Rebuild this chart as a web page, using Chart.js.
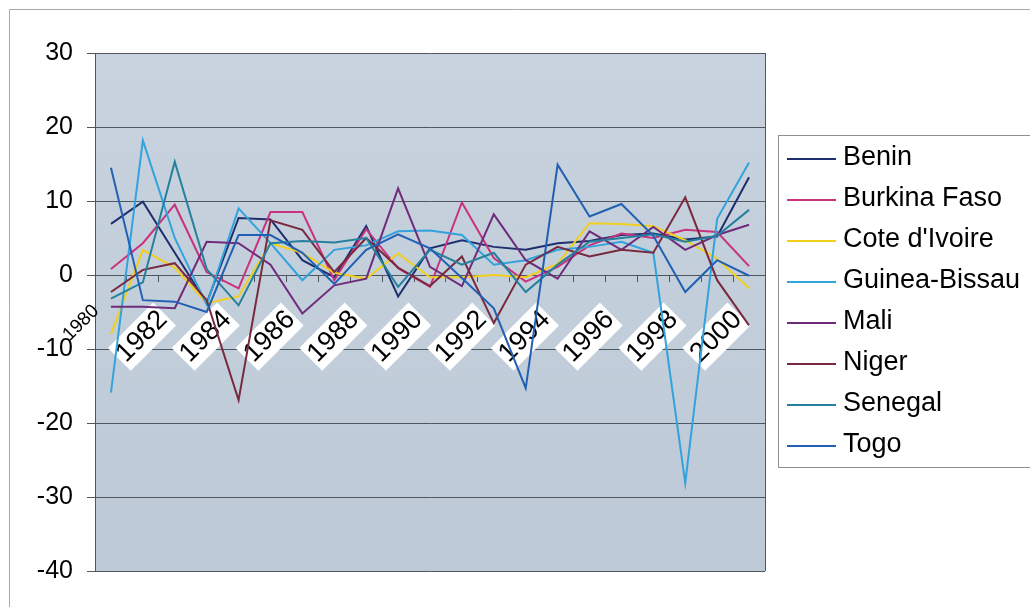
<!DOCTYPE html>
<html>
<head>
<meta charset="utf-8">
<script src="https://cdn.jsdelivr.net/npm/chart.js@4.4.1/dist/chart.umd.min.js"></script>
<style>
  html, body { margin: 0; padding: 0; background: #ffffff; }
  #wrap { width: 1030px; height: 607px; position: relative; }
</style>
</head>
<body>
<div id="wrap"><canvas id="c" width="1030" height="607"></canvas></div>
<script>
// Annual change (%) by country, 1980-2000
const years = ['1980','1981','1982','1983','1984','1985','1986','1987','1988','1989','1990',
               '1991','1992','1993','1994','1995','1996','1997','1998','1999','2000'];

const benin        = [6.9, 9.9, 3.0, -3.8, 7.7, 7.5, 2.0, -0.3, 6.6, -2.9, 3.6, 4.7, 3.8, 3.4, 4.3, 4.6, 5.4, 5.6, 4.8, 5.2, 13.2];
const burkinaFaso  = [0.8, 4.3, 9.5, 0.4, -1.8, 8.5, 8.5, -0.7, 6.2, 0.9, -1.6, 9.8, 2.3, -0.9, 1.1, 4.0, 5.6, 5.0, 6.1, 5.8, 1.2];
const coteDIvoire  = [-8.0, 3.4, 1.0, -3.8, -2.9, 4.3, 3.0, 0.3, -0.5, 2.9, -0.3, -0.3, 0.0, -0.3, 1.5, 7.0, 6.9, 6.6, 4.7, 2.2, -1.8];
const guineaBissau = [-15.9, 18.2, 5.0, -4.0, 9.0, 4.3, -0.7, 3.4, 4.0, 5.9, 6.0, 5.4, 1.4, 2.0, 3.4, 3.8, 4.5, 3.0, -28.1, 7.6, 15.2];
const mali         = [-4.3, -4.3, -4.5, 4.5, 4.3, 1.4, -5.2, -1.4, -0.5, 11.7, 1.1, -1.5, 8.2, 2.0, -0.5, 5.9, 3.4, 6.5, 3.4, 5.4, 6.8];
const niger        = [-2.3, 0.7, 1.6, -3.4, -16.9, 7.4, 6.1, 0.4, 5.0, 1.0, -1.5, 2.5, -6.5, 1.4, 3.8, 2.5, 3.4, 3.0, 10.5, -0.7, -6.8];
const senegal      = [-3.2, -1.0, 15.3, 0.8, -4.1, 4.3, 4.6, 4.4, 5.0, -1.6, 3.4, 1.4, 3.0, -2.3, 1.4, 4.5, 5.0, 5.5, 4.5, 5.3, 8.8];
const togo         = [14.5, -3.4, -3.6, -5.0, 5.4, 5.4, 3.0, -1.2, 3.4, 5.5, 3.6, -0.4, -4.5, -15.3, 14.9, 7.9, 9.6, 5.3, -2.3, 2.0, -0.1];

const seriesNames  = ['Benin', 'Burkina Faso', "Cote d'Ivoire", 'Guinea-Bissau', 'Mali', 'Niger', 'Senegal', 'Togo'];
const seriesValues = [benin, burkinaFaso, coteDIvoire, guineaBissau, mali, niger, senegal, togo];
const seriesColors = ['#1d2f6f', '#c8327e', '#f0cf1e', '#32a3dc', '#6f2c7c', '#7a2a3e', '#24809e', '#2160b2'];

const yTicks = { min: -40, max: 30, step: 10 };

const FONT = '"Liberation Sans", Arial, Helvetica, sans-serif';
const AXIS_GRAY = '#50565d';

// Plot background, outer frame and right-hand border of the plot
const plotFrame = {
  id: 'plotFrame',
  beforeDraw(chart) {
    const { ctx, chartArea: a } = chart;
    ctx.save();
    ctx.strokeStyle = '#a9a9a9';
    ctx.lineWidth = 1;
    ctx.beginPath();
    ctx.moveTo(9.5, 607);
    ctx.lineTo(9.5, 9.5);
    ctx.lineTo(1030, 9.5);
    ctx.stroke();
    const g = ctx.createLinearGradient(0, a.top, 0, a.bottom);
    g.addColorStop(0, '#c8d3df');
    g.addColorStop(1, '#bdc9d6');
    ctx.fillStyle = g;
    ctx.fillRect(a.left, a.top, a.right - a.left, a.bottom - a.top);
    ctx.restore();
  },
  beforeDatasetsDraw(chart) {
    const { ctx, chartArea: a } = chart;
    ctx.save();
    ctx.strokeStyle = AXIS_GRAY;
    ctx.lineWidth = 1;
    ctx.beginPath();
    ctx.moveTo(Math.round(a.right) + 0.5, a.top);
    ctx.lineTo(Math.round(a.right) + 0.5, a.bottom);
    ctx.stroke();
    ctx.restore();
  },
  // the first year label sits outside the plot, smaller and without a backdrop
  afterDraw(chart) {
    const { ctx } = chart;
    const x0 = chart.scales.x.getPixelForValue(0);
    const y0 = chart.scales.y.getPixelForValue(0);
    ctx.save();
    ctx.translate(x0 - 15, y0 + 33);
    ctx.rotate(-Math.PI / 4);
    ctx.font = '19px ' + FONT;
    ctx.fillStyle = '#000000';
    ctx.textAlign = 'right';
    ctx.textBaseline = 'middle';
    ctx.fillText(years[0], 0, 0);
    ctx.restore();
  }
};

// Boxed legend with line samples on the right
const boxedLegend = {
  id: 'boxedLegend',
  afterDraw(chart) {
    const ctx = chart.ctx;
    ctx.save();
    ctx.strokeStyle = '#8f8f8f';
    ctx.lineWidth = 1;
    ctx.strokeRect(778.5, 135.5, 300, 332);
    ctx.font = '27px ' + FONT;
    ctx.textBaseline = 'middle';
    ctx.textAlign = 'left';
    chart.data.datasets.forEach((ds, i) => {
      const y = 158 + i * 41;
      ctx.strokeStyle = ds.borderColor;
      ctx.lineWidth = 2;
      ctx.beginPath();
      ctx.moveTo(787, y + 1);
      ctx.lineTo(836, y + 1);
      ctx.stroke();
      ctx.fillStyle = '#000000';
      ctx.fillText(ds.label, 843, y);
    });
    ctx.restore();
  }
};

new Chart(document.getElementById('c'), {
  type: 'line',
  data: {
    labels: years,
    datasets: seriesNames.map((name, i) => ({
      label: name,
      data: seriesValues[i],
      borderColor: seriesColors[i],
      backgroundColor: seriesColors[i],
      borderWidth: 2,
      pointRadius: 0,
      tension: 0,
      fill: false,
      order: seriesNames.length - i
    }))
  },
  options: {
    responsive: false,
    animation: false,
    devicePixelRatio: 1,
    layout: { padding: { left: 0, top: 53, right: 265, bottom: 36 } },
    plugins: {
      legend: { display: false },
      tooltip: { enabled: false }
    },
    scales: {
      x: {
        type: 'category',
        position: { y: 0 },
        offset: true,
        grid: { drawOnChartArea: false, offset: true, tickLength: 6, color: AXIS_GRAY },
        border: { display: true, color: AXIS_GRAY },
        ticks: {
          autoSkip: false,
          minRotation: 45,
          maxRotation: 45,
          padding: 23,
          labelOffset: -23,
          color: '#000000',
          font: { family: FONT, size: 27 },
          callback: (value, index) => (index > 0 && index % 2 === 0 ? years[index] : ''),
          showLabelBackdrop: true,
          backdropColor: (ctx) => (ctx.index > 0 && ctx.index % 2 === 0 ? '#ffffff' : 'rgba(255,255,255,0)'),
          backdropPadding: { left: 2, right: 2, top: 0, bottom: 0 }
        }
      },
      y: {
        min: yTicks.min,
        max: yTicks.max,
        afterFit: (scale) => { scale.width = 95; },
        grid: { color: AXIS_GRAY, tickLength: 8 },
        border: { display: true, color: AXIS_GRAY },
        ticks: {
          stepSize: yTicks.step,
          padding: 14,
          color: '#000000',
          font: { family: FONT, size: 25 }
        }
      }
    }
  },
  plugins: [plotFrame, boxedLegend]
});
</script>
</body>
</html>
